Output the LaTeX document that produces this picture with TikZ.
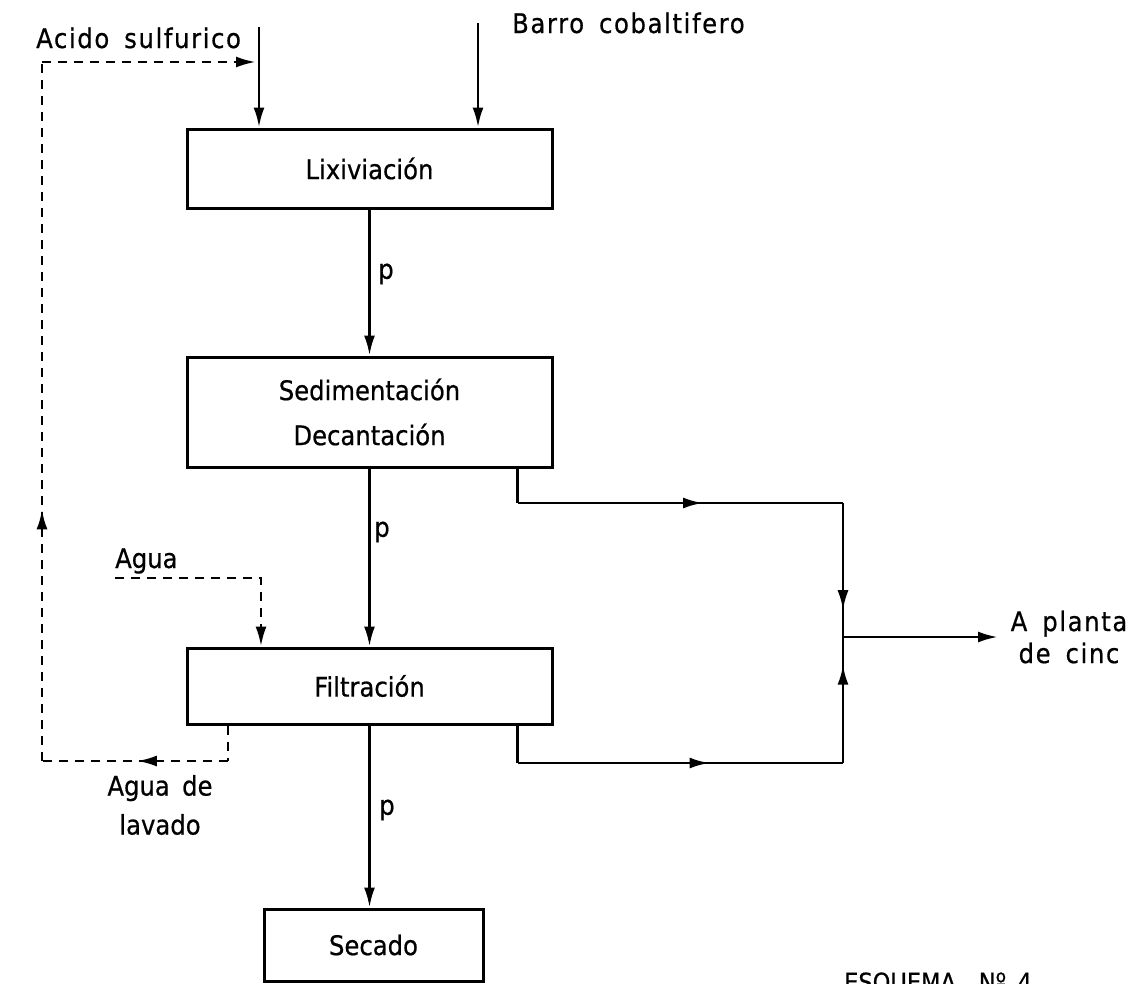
\documentclass[tikz,border=0pt]{standalone}
\usepackage{fontspec}
\setmainfont{DejaVu Sans}[FakeStretch=0.9, WordSpace=1.6, FakeBold=0.6]
\usetikzlibrary{arrows.meta,decorations.markings,calc}
\begin{document}
\begin{tikzpicture}[x=1pt,y=-1pt,
  every node/.style={font=\fontsize{27}{32}\selectfont, inner sep=0pt},
  wide/.style={font=\fontsize{27}{32}\selectfont\addfontfeature{LetterSpace=6}},
  box/.style={draw, line width=3pt, minimum width=365pt, align=center},
  tip/.style={-{Latex[length=20pt,width=11pt]}},
  flow/.style={line width=2.8pt, tip},
  solid line/.style={line width=2.8pt},
  recyc/.style={line width=2.8pt, dash pattern=on 9pt off 7pt},
  midarrow/.style={postaction={decorate}, decoration={markings,
     mark=at position #1 with {\arrow{Latex[length=20pt,width=11pt]}}}}]
\clip (0,0) rectangle (1142,983);
\fill[white] (0,0) rectangle (1142,983);

% boxes
\node[box, minimum height=79pt] (lix) at (369.5,168.5) {Lixiviación};
\node[box, minimum height=110pt] (sed) at (369.5,412) {Sedimentación\\[13pt]Decantación};
\node[box, minimum height=76pt] (fil) at (369.5,686) {Filtración};
\node[box, minimum width=219pt, minimum height=72pt] (sec) at (373.5,945) {Secado};

% inputs
\coordinate (acidoTop) at (259,27);
\coordinate (barroTop) at (478,23);
\node[wide, anchor=base west] (acido) at (36,48) {Acido sulfurico};
\node[wide, anchor=base west] (barro) at (512,33) {Barro cobaltifero};
\draw[flow] (acidoTop) -- (acidoTop |- lix.north);
\draw[flow] (barroTop) -- (barroTop |- lix.north);

% main line
\draw[flow] (lix.south) -- (sed.north);
\draw[flow] (sed.south) -- (fil.north);
\draw[flow] (fil.south) -- (fil.south |- sec.north);
\node (p1) at (386,274) {p};
\node (p2) at (382,532) {p};
\node (p3) at (387,810) {p};

% right side to zinc plant
\coordinate (jn) at (843,637);
\coordinate (sedOut) at ($(sed.south east)+(-36,0)$);
\coordinate (sedCorner) at (843,503);
\coordinate (sedTurn) at (sedOut |- sedCorner);
\coordinate (filOut) at ($(fil.south east)+(-36,0)$);
\coordinate (filCorner) at (843,763);
\coordinate (filTurn) at (filOut |- filCorner);
\coordinate (outEnd) at (998,637);
\draw[solid line] (sedOut) -- (sedTurn);
\draw[solid line, midarrow=0.57] (sedTurn) -- (sedCorner);
\draw[solid line, midarrow=0.8] (sedCorner) -- (jn);
\draw[solid line] (filOut) -- (filTurn);
\draw[solid line, midarrow=0.59] (filTurn) -- (filCorner);
\draw[solid line, midarrow=0.78] (filCorner) -- (jn);
\draw[flow] (jn) -- (outEnd);
\node[wide, align=center] (planta) at (1069,637) {A planta\\de cinc};

% wash water
\node[anchor=base west] (agua) at (115,568) {Agua};
\coordinate (aguaStart) at (115,578);
\coordinate (aguaCorner) at (261,578);
\draw[recyc, tip] (aguaStart) -- (aguaCorner) -- (aguaCorner |- fil.north);

% recycle of wash water
\coordinate (recA) at (228,761);
\coordinate (recB) at (42,761);
\coordinate (recC) at (42,62);
\draw[recyc] (fil.south -| recA) -- (recA);
\draw[recyc, midarrow=0.49] (recA) -- (recB);
\draw[recyc, midarrow=0.36] (recB) -- (recC);
\draw[recyc, tip, shorten >=3pt] (recC) -- (recC -| acidoTop);
\node[align=center] (lavado) at (160,805) {Agua de\\[7pt]lavado};

% caption (cut by the page edge, as in the scan)
\node[anchor=base west, font=\fontsize{25}{30}\selectfont] (esq) at (844,991) {ESQUEMA~~Nº 4};
\end{tikzpicture}
\end{document}
